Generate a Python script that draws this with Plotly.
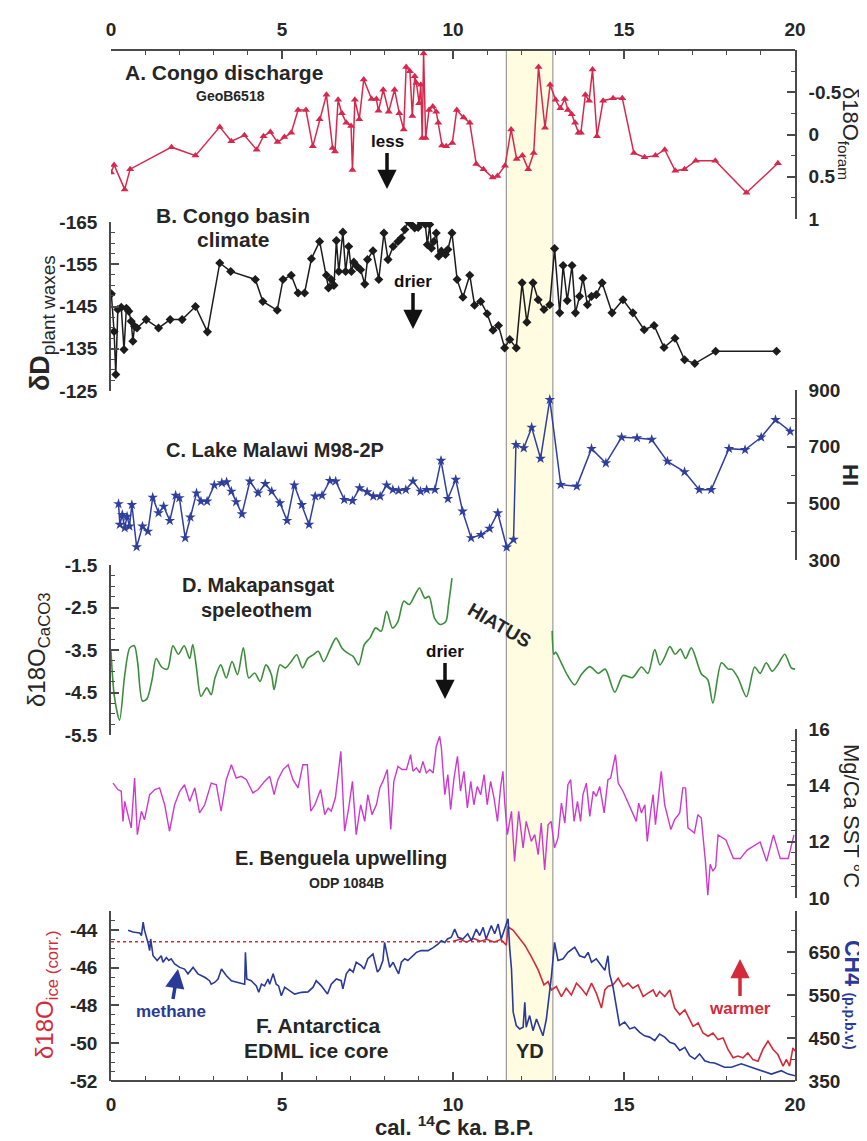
import numpy as np
import plotly.graph_objects as go

# ---------------- data ----------------
# A. Congo discharge, d18O foram (GeoB6518)
A_x = [0.0, 0.09, 0.40, 0.56, 1.77, 2.47, 3.18, 3.52, 3.90, 4.26,
       4.46, 4.66, 4.87, 5.07, 5.27, 5.47, 5.70, 5.90, 6.10, 6.30,
       6.48, 6.55, 6.64, 6.75, 6.88, 7.02, 7.06, 7.13, 7.26, 7.39,
       7.62, 7.76, 7.82, 7.96, 8.12, 8.29, 8.43, 8.56, 8.63, 8.74,
       8.81, 8.88, 8.93, 9.01, 9.06, 9.10, 9.14, 9.20, 9.30, 9.41,
       9.51, 9.57, 9.68, 9.80, 9.98, 10.11, 10.31, 10.49, 10.68, 10.89,
       11.16, 11.30, 11.52, 11.70, 11.86, 12.03, 12.20, 12.36, 12.50, 12.69,
       12.84, 13.00, 13.14, 13.27, 13.36, 13.47, 13.57, 13.67, 13.74, 13.87,
       13.98, 14.08, 14.21, 14.39, 14.68, 14.95, 15.29, 15.60, 15.92, 16.19,
       16.50, 16.77, 17.10, 17.67, 18.58, 19.50]
A_y = [0.45, 0.36, 0.65, 0.41, 0.15, 0.25, -0.09, 0.08, 0.01, 0.18,
       0.02, -0.03, 0.09, 0.03, -0.02, -0.29, -0.29, 0.14, -0.18, -0.47,
       0.16, 0.20, -0.41, -0.25, -0.14, -0.10, 0.42, -0.41, -0.18, -0.65,
       -0.42, -0.42, -0.28, -0.53, -0.27, -0.53, -0.25, -0.06, -0.80, -0.75,
       -0.22, -0.69, -0.61, -0.37, -0.59, 0.04, -0.96, 0.04, -0.29, -0.33,
       -0.27, -0.14, 0.13, 0.14, 0.10, -0.29, -0.20, -0.14, 0.35, 0.41,
       0.51, 0.49, 0.37, -0.06, 0.29, 0.25, 0.41, 0.22, -0.80, -0.08,
       -0.59, -0.41, -0.31, -0.42, -0.29, -0.24, -0.14, -0.02, -0.02, -0.47,
       -0.40, -0.77, 0.02, -0.40, -0.43, -0.43, 0.22, 0.27, 0.25, 0.18,
       0.43, 0.41, 0.31, 0.31, 0.69, 0.34]

# B. Congo basin climate, dD plant waxes
B_x = [0.01, 0.09, 0.14, 0.20, 0.30, 0.38, 0.45, 0.52, 0.59, 0.64,
       0.69, 0.76, 1.03, 1.39, 1.73, 2.08, 2.47, 2.82, 3.18, 3.50,
       4.22, 4.44, 4.86, 5.03, 5.27, 5.47, 5.66, 5.86, 6.10, 6.30,
       6.36, 6.44, 6.52, 6.59, 6.66, 6.78, 6.86, 6.95, 7.03, 7.10,
       7.19, 7.30, 7.42, 7.50, 7.66, 7.83, 7.98, 8.10, 8.25, 8.39,
       8.49, 8.59, 8.68, 8.78, 8.88, 8.98, 9.07, 9.19, 9.25, 9.32,
       9.37, 9.44, 9.51, 9.58, 9.66, 9.78, 9.85, 9.97, 10.12, 10.29,
       10.49, 10.63, 10.81, 11.00, 11.17, 11.33, 11.51, 11.66, 11.85, 12.02,
       12.16, 12.34, 12.49, 12.66, 12.83, 12.97, 13.12, 13.22, 13.34, 13.48,
       13.58, 13.70, 13.80, 13.93, 14.05, 14.19, 14.36, 14.65, 14.97, 15.26,
       15.59, 15.88, 16.17, 16.49, 16.77, 17.07, 17.68, 19.46]
B_y = [-148.0, -139.1, -128.9, -144.3, -144.8, -134.8, -144.6, -143.9, -141.5, -136.8,
       -140.3, -139.9, -141.9, -139.9, -141.9, -141.9, -145.0, -139.0, -155.3, -153.3,
       -151.4, -146.2, -144.1, -151.4, -152.4, -148.2, -148.2, -156.3, -160.4, -152.4,
       -149.4, -151.4, -150.0, -160.6, -153.3, -162.6, -153.3, -159.2, -153.3, -155.5,
       -154.5, -153.7, -150.3, -156.1, -158.2, -151.4, -162.4, -156.1, -159.2, -160.4,
       -161.2, -163.2, -165.2, -164.4, -163.6, -163.7, -164.8, -164.4, -159.6, -164.4,
       -158.8, -160.4, -162.4, -156.9, -158.1, -157.3, -158.5, -162.4, -151.4, -147.2,
       -152.4, -145.3, -146.2, -143.3, -139.4, -140.5, -135.2, -137.2, -135.2, -150.6,
       -141.3, -150.6, -146.6, -144.3, -145.4, -158.7, -143.5, -154.7, -146.4, -154.7,
       -143.5, -147.4, -151.7, -145.4, -147.4, -147.8, -150.6, -143.5, -146.6, -143.5,
       -139.5, -140.5, -135.3, -137.5, -132.4, -131.5, -134.4, -134.4]

# C. Lake Malawi M98-2P, HI
C_x = [0.22, 0.26, 0.33, 0.40, 0.47, 0.54, 0.61, 0.75, 0.92, 1.08,
       1.22, 1.39, 1.54, 1.72, 1.89, 2.00, 2.17, 2.32, 2.50, 2.63,
       2.81, 3.02, 3.24, 3.38, 3.52, 3.66, 3.83, 4.06, 4.30, 4.51,
       4.70, 4.94, 5.15, 5.36, 5.58, 5.79, 5.97, 6.17, 6.40, 6.57,
       6.82, 7.06, 7.27, 7.49, 7.67, 7.87, 8.06, 8.24, 8.41, 8.62,
       8.83, 9.05, 9.23, 9.47, 9.65, 9.85, 10.08, 10.28, 10.53, 10.82,
       11.07, 11.31, 11.57, 11.77, 11.84, 12.07, 12.30, 12.56, 12.83, 13.15,
       13.62, 14.05, 14.47, 14.93, 15.38, 15.81, 16.27, 16.77, 17.20, 17.55,
       18.07, 18.54, 19.01, 19.43, 19.86]
C_y = [498, 425, 460, 413, 454, 419, 495, 346, 419, 401,
       521, 466, 489, 439, 528, 519, 378, 451, 536, 507,
       507, 564, 572, 575, 542, 505, 462, 578, 536, 569,
       542, 501, 439, 564, 495, 425, 525, 528, 580, 578,
       513, 509, 554, 540, 525, 525, 564, 548, 545, 548,
       578, 542, 548, 548, 651, 516, 584, 472, 378, 389,
       411, 466, 345, 372, 707, 695, 768, 658, 866, 566,
       560, 693, 642, 733, 731, 725, 648, 611, 548, 548,
       693, 689, 733, 795, 754]

# D. Makapansgat speleothem, d18O CaCO3 (None marks the hiatus)
D_x = [0.0, 0.1, 0.25, 0.4, 0.55, 0.68, 0.78, 0.92, 1.05, 1.2,
       1.32, 1.48, 1.65, 1.81, 1.97, 2.14, 2.3, 2.39, 2.5, 2.63,
       2.8, 2.93, 3.04, 3.21, 3.37, 3.54, 3.7, 3.87, 4.03, 4.2,
       4.36, 4.53, 4.69, 4.77, 4.94, 5.1, 5.27, 5.43, 5.6, 5.76,
       5.92, 6.06, 6.22, 6.42, 6.58, 6.75, 6.91, 7.08, 7.24, 7.41,
       7.57, 7.74, 7.9, 8.06, 8.23, 8.39, 8.56, 8.72, 8.89, 9.02,
       9.18, 9.3, 9.46, 9.63, 9.79, 9.87, 9.97, None,
       12.9, 12.95, 13.0, 13.17, 13.35, 13.56, 13.75, 14.0, 14.25, 14.45,
       14.73, 14.97, 15.25, 15.51, 15.7, 15.9, 16.05, 16.2, 16.34, 16.5,
       16.65, 16.8, 16.97, 17.26, 17.45, 17.6, 17.85, 18.05, 18.15, 18.33,
       18.58, 18.82, 18.98, 19.16, 19.33, 19.5, 19.7, 19.89, 20.0]
D_y = [-3.53, -4.6, -5.15, -4.1, -3.45, -3.4, -3.8, -4.7, -4.65, -4.2,
       -3.7, -3.9, -3.95, -3.4, -3.6, -3.4, -3.7, -3.37, -3.92, -4.59,
       -4.39, -4.55, -4.16, -3.85, -4.16, -3.77, -4.08, -3.45, -4.16, -4.04,
       -4.24, -3.85, -4.08, -4.43, -3.85, -3.92, -3.77, -3.61, -3.92, -3.69,
       -3.61, -3.53, -3.77, -3.45, -3.22, -3.45, -3.57, -3.65, -3.85, -3.37,
       -3.22, -2.98, -3.06, -2.59, -2.98, -2.83, -2.35, -2.43, -2.2, -2.04,
       -2.28, -2.24, -2.75, -2.9, -2.83, -2.43, -1.81, None,
       -3.05, -3.6, -3.55, -3.81, -4.1, -4.32, -4.08, -3.89, -4.05, -3.95,
       -4.49, -4.1, -4.15, -3.9, -4.05, -3.49, -3.85, -3.65, -3.42, -3.6,
       -3.48, -3.7, -3.45, -4.06, -4.2, -4.75, -3.8, -3.95, -3.95, -4.15,
       -4.6, -3.9, -4.05, -3.8, -4.0, -3.84, -3.6, -3.92, -3.95]

# E. Benguela upwelling, Mg/Ca SST (ODP 1084B)
E_x = [0.06, 0.20, 0.30, 0.35, 0.40, 0.50, 0.59, 0.69, 0.77, 0.89,
       0.98, 1.13, 1.28, 1.42, 1.57, 1.71, 1.86, 2.01, 2.15, 2.30,
       2.45, 2.59, 2.74, 2.93, 3.08, 3.22, 3.37, 3.52, 3.66, 3.81,
       3.96, 4.15, 4.30, 4.49, 4.64, 4.77, 4.88, 5.03, 5.18, 5.32,
       5.47, 5.61, 5.74, 5.84, 5.96, 6.13, 6.25, 6.35, 6.44, 6.56,
       6.72, 6.83, 6.95, 7.06, 7.17, 7.30, 7.42, 7.51, 7.63, 7.76,
       7.86, 7.95, 8.08, 8.18, 8.27, 8.39, 8.51, 8.64, 8.76, 8.83,
       8.93, 9.03, 9.12, 9.22, 9.32, 9.42, 9.51, 9.61, 9.66, 9.76,
       9.85, 9.93, 10.03, 10.13, 10.22, 10.32, 10.42, 10.52, 10.61, 10.71,
       10.81, 10.91, 11.00, 11.10, 11.20, 11.30, 11.39, 11.46, 11.51, 11.59,
       11.71, 11.80, 11.92, 12.05, 12.14, 12.19, 12.29, 12.39, 12.49, 12.58,
       12.68, 12.78, 12.87, 12.97, 13.07, 13.17, 13.27, 13.36, 13.44, 13.54,
       13.64, 13.73, 13.80, 13.90, 14.00, 14.10, 14.19, 14.29, 14.42, 14.53,
       14.61, 14.75, 14.83, 14.97, 15.12, 15.23, 15.36, 15.43, 15.51, 15.61,
       15.68, 15.78, 15.85, 15.92, 16.00, 16.09, 16.19, 16.37, 16.48, 16.63,
       16.72, 16.80, 16.87, 17.06, 17.16, 17.26, 17.38, 17.45, 17.52, 17.60,
       17.68, 17.75, 17.98, 18.20, 18.40, 18.60, 18.98, 19.17, 19.37, 19.57,
       19.80, 19.97]
E_y = [14.08, 13.85, 13.79, 12.72, 13.43, 12.96, 12.49, 14.26, 12.25, 13.08,
       12.78, 13.67, 13.85, 13.91, 13.31, 12.37, 13.31, 13.79, 14.02, 13.43,
       13.91, 13.02, 13.31, 14.08, 14.02, 13.08, 14.20, 14.73, 14.26, 14.32,
       14.20, 13.73, 13.85, 14.14, 14.32, 13.67, 14.20, 14.56, 14.73, 14.20,
       13.91, 14.73, 14.73, 13.08, 13.31, 13.85, 12.96, 13.19, 13.08, 13.55,
       15.21, 12.37, 13.19, 14.14, 12.25, 13.31, 12.72, 13.67, 12.96, 13.31,
       13.91, 14.14, 14.56, 12.43, 14.14, 14.67, 14.56, 14.56, 15.09, 14.50,
       14.62, 14.44, 14.85, 14.44, 14.56, 14.44, 15.38, 15.74, 15.33, 13.67,
       14.38, 13.14, 14.26, 15.03, 13.79, 14.50, 13.20, 14.14, 13.31, 13.96,
       13.67, 14.38, 13.31, 14.14, 13.55, 12.72, 13.91, 14.50, 13.43, 12.25,
       13.08, 11.30, 13.08, 11.78, 12.72, 12.49, 12.01, 12.25, 11.54, 12.66,
       11.00, 12.60, 12.72, 11.78, 12.13, 13.37, 12.66, 14.02, 14.20, 12.72,
       13.43, 12.72, 13.67, 14.08, 12.90, 13.79, 13.61, 13.96, 13.02, 14.20,
       14.26, 15.09, 14.08, 13.79, 13.37, 13.08, 12.72, 13.37, 13.02, 13.31,
       12.01, 13.08, 13.67, 12.60, 13.55, 14.50, 13.31, 12.43, 12.78, 13.02,
       13.91, 13.91, 12.49, 12.31, 12.96, 12.84, 11.30, 10.10, 11.20, 10.95,
       11.10, 12.24, 12.06, 11.40, 11.40, 11.70, 11.99, 11.30, 12.24, 11.40,
       11.40, 12.24]

# F. Antarctica EDML ice core: d18O ice (corr.) and CH4
FI_x = [10.0, 10.2, 10.4, 10.6, 10.8, 11.0, 11.2, 11.4, 11.56, 11.61,
        11.76, 11.90, 12.10, 12.29, 12.49, 12.66, 12.78, 12.88, 13.02, 13.17,
        13.31, 13.46, 13.61, 13.75, 13.90, 14.05, 14.19, 14.34, 14.44, 14.53,
        14.68, 14.83, 14.97, 15.12, 15.26, 15.41, 15.56, 15.70, 15.85, 15.95,
        16.04, 16.19, 16.34, 16.48, 16.63, 16.78, 16.92, 17.02, 17.17, 17.31,
        17.46, 17.60, 17.75, 17.90, 18.04, 18.19, 18.33, 18.48, 18.62, 18.77,
        18.92, 19.06, 19.21, 19.36, 19.50, 19.65, 19.75, 19.84, 19.94, 20.0]
FI_y = [-44.6, -44.5, -44.65, -44.45, -44.6, -44.5, -44.65, -44.5, -44.81, -43.84,
        -44.02, -44.37, -44.81, -45.42, -46.12, -46.91, -46.74, -47.18, -47.00, -47.53,
        -47.09, -47.44, -46.82, -47.09, -47.44, -46.82, -47.35, -48.14, -47.18, -47.00,
        -46.91, -46.56, -47.00, -46.82, -47.09, -46.91, -47.53, -47.35, -47.18, -47.53,
        -47.26, -47.53, -47.18, -48.14, -48.49, -48.23, -48.75, -49.11, -48.93, -49.46,
        -49.63, -49.46, -49.81, -49.72, -50.33, -50.77, -50.68, -50.77, -50.51, -50.86,
        -50.95, -50.33, -49.89, -50.33, -50.60, -51.21, -50.86, -51.21, -50.25, -50.42]
CH4_x = [0.50, 0.64, 0.84, 0.89, 0.94, 0.98, 1.08, 1.13, 1.16, 1.23,
         1.35, 1.47, 1.52, 1.62, 1.69, 1.76, 1.86, 2.01, 2.15, 2.25,
         2.40, 2.54, 2.74, 2.88, 2.93, 3.03, 3.13, 3.23, 3.37, 3.52,
         3.71, 3.91, 3.93, 3.97, 4.10, 4.25, 4.32, 4.40, 4.49, 4.59,
         4.64, 4.74, 4.83, 4.90, 4.98, 5.08, 5.22, 5.37, 5.57, 5.76,
         5.91, 6.00, 6.15, 6.33, 6.44, 6.59, 6.73, 6.78, 6.88, 6.98,
         7.08, 7.17, 7.32, 7.40, 7.51, 7.66, 7.79, 7.86, 7.95, 8.00,
         8.15, 8.25, 8.34, 8.41, 8.49, 8.59, 8.68, 8.78, 8.93, 9.07,
         9.27, 9.42, 9.56, 9.66, 9.76, 9.84, 9.95, 10.05, 10.15, 10.29,
         10.43, 10.54, 10.68, 10.78, 10.88, 10.97, 11.12, 11.22, 11.32, 11.41,
         11.51, 11.61, 11.66, 11.71, 11.76, 11.85, 11.95, 12.05, 12.10, 12.14,
         12.24, 12.34, 12.44, 12.54, 12.63, 12.73, 12.88, 12.97, 13.07, 13.22,
         13.36, 13.56, 13.70, 13.85, 13.95, 14.05, 14.19, 14.34, 14.44, 14.53,
         14.58, 14.68, 14.78, 14.87, 15.02, 15.17, 15.31, 15.46, 15.60, 15.75,
         15.90, 16.04, 16.19, 16.34, 16.48, 16.63, 16.78, 16.92, 17.07, 17.21,
         17.36, 17.51, 17.65, 17.94, 18.14, 18.43, 18.72, 19.02, 19.31, 19.60,
         19.80, 20.0]
CH4_y = [700, 696, 694, 688, 719, 700, 672, 653, 680, 641,
         630, 641, 626, 637, 630, 634, 622, 614, 610, 599,
         614, 599, 591, 583, 575, 579, 587, 610, 595, 583,
         579, 575, 649, 587, 583, 571, 556, 575, 571, 587,
         575, 599, 575, 571, 548, 568, 560, 552, 556, 557,
         568, 583, 571, 552, 575, 587, 583, 564, 599, 610,
         603, 626, 618, 610, 634, 645, 603, 610, 630, 672,
         614, 626, 610, 599, 626, 634, 630, 637, 649, 653,
         653, 660, 668, 676, 672, 680, 684, 703, 684, 680,
         692, 676, 703, 688, 707, 680, 711, 692, 715, 680,
         703, 727, 657, 610, 510, 479, 471, 475, 533, 475,
         502, 467, 494, 471, 455, 494, 595, 672, 630, 634,
         649, 661, 641, 637, 649, 626, 634, 618, 607, 641,
         599, 568, 517, 479, 487, 471, 475, 463, 455, 452,
         444, 459, 452, 440, 436, 421, 428, 409, 401, 413,
         397, 393, 392, 382, 382, 390, 382, 374, 366, 374,
         366, 362]
DOT_X = [0.0, 11.56]
DOT_LEVEL = -44.63

YD_START, YD_END = 11.56, 12.92

X_TICKS = [0, 5, 10, 15, 20]
A_TICKS = [-0.5, 0, 0.5, 1]
B_TICKS = [-165, -155, -145, -135, -125]
C_TICKS = [300, 500, 700, 900]
D_TICKS = [-5.5, -4.5, -3.5, -2.5, -1.5]
E_TICKS = [10, 12, 14, 16]
F_TICKS = [-52, -50, -48, -46, -44]
CH4_TICKS = [350, 450, 550, 650]

# ---------------- layout geometry ----------------
W, H = 867, 1141
ML, MR, MT, MB = 103, 80, 42, 68
PW = W - ML - MR
PH = H - MT - MB


def fx(px):
    return (px - ML) / PW


def fy(py):
    return (H - MB - py) / PH


FONT = 'Liberation Sans, Arial, sans-serif'
AX = '#4a4a4a'
TXT = '#262626'
RED_A = '#D6284E'
BLACK = '#1c1c1c'
BLUE_C = '#2F3F9E'
GREEN = '#3B8E3B'
MAGENTA = '#CC3ACC'
RED_F = '#D22C3A'
BLUE_F = '#2A3A98'


def yaxis(top_px, bot_px, rng, side, ticks, minor_vals):
    return dict(domain=[fy(bot_px), fy(top_px)], range=rng, side=side, anchor='x',
                showline=True, linecolor=AX, linewidth=1.6,
                ticks='inside', ticklen=8, tickwidth=1.5, tickcolor=AX,
                tickmode='array', tickvals=ticks, ticktext=['%g' % v for v in ticks],
                tickfont=dict(family=FONT, size=19, color=TXT, weight='bold'),
                ticklabelstandoff=8,
                minor=dict(ticks='inside', ticklen=4, tickwidth=1, tickcolor=AX,
                           tickmode='array', tickvals=list(minor_vals), showgrid=False),
                showgrid=False, zeroline=False, fixedrange=True)


def xaxis(extra):
    d = dict(domain=[0, 1], range=[0, 20], showline=True, linecolor=AX, linewidth=1.6,
             ticks='inside', ticklen=8, tickwidth=1.5, tickcolor=AX,
             tickmode='array', tickvals=X_TICKS, ticktext=[str(v) for v in X_TICKS],
             tickfont=dict(family=FONT, size=19, color=TXT, weight='bold'),
             ticklabelstandoff=6,
             minor=dict(ticks='inside', ticklen=4, tickwidth=1, tickcolor=AX,
                        tickmode='array', tickvals=list(range(0, 21)), showgrid=False),
             showgrid=False, zeroline=False, fixedrange=True)
    d.update(extra)
    return d


fig = go.Figure()

fig.add_trace(go.Scatter(x=A_x, y=A_y, xaxis='x', yaxis='y', mode='lines+markers',
                         line=dict(color=RED_A, width=1.5),
                         marker=dict(symbol='triangle-up', size=7, color=RED_A)))
fig.add_trace(go.Scatter(x=B_x, y=B_y, xaxis='x', yaxis='y2', mode='lines+markers',
                         line=dict(color=BLACK, width=1.5),
                         marker=dict(symbol='diamond', size=7, color=BLACK)))
fig.add_trace(go.Scatter(x=C_x, y=C_y, xaxis='x', yaxis='y3', mode='lines+markers',
                         line=dict(color=BLUE_C, width=1.5),
                         marker=dict(symbol='star', size=8, color=BLUE_C)))
fig.add_trace(go.Scatter(x=D_x, y=D_y, xaxis='x', yaxis='y4', mode='lines',
                         line=dict(color=GREEN, width=1.6, shape='spline', smoothing=0.8),
                         connectgaps=False))
fig.add_trace(go.Scatter(x=E_x, y=E_y, xaxis='x', yaxis='y5', mode='lines',
                         line=dict(color=MAGENTA, width=1.4)))
fig.add_trace(go.Scatter(x=DOT_X, y=[DOT_LEVEL, DOT_LEVEL], xaxis='x', yaxis='y6', mode='lines',
                         line=dict(color=RED_F, width=1.5, dash='dot')))
fig.add_trace(go.Scatter(x=FI_x, y=FI_y, xaxis='x', yaxis='y6', mode='lines',
                         line=dict(color=RED_F, width=1.6)))
fig.add_trace(go.Scatter(x=CH4_x, y=CH4_y, xaxis='x', yaxis='y7', mode='lines',
                         line=dict(color=BLUE_F, width=1.6)))
# dummy trace so that the top axis is drawn
fig.add_trace(go.Scatter(x=[0, 20], y=[None, None], xaxis='x2', yaxis='y', mode='lines',
                         hoverinfo='skip'))

shapes = [
    dict(type='rect', xref='x', yref='paper', x0=YD_START, x1=YD_END, y0=0, y1=1,
         fillcolor='#FFFCE2', line=dict(width=0), layer='below'),
    dict(type='line', xref='x', yref='paper', x0=YD_START, x1=YD_START, y0=0, y1=1,
         line=dict(color='#9a9a9a', width=1.2), layer='below'),
    dict(type='line', xref='x', yref='paper', x0=YD_END, x1=YD_END, y0=0, y1=1,
         line=dict(color='#9a9a9a', width=1.2), layer='below'),
]


def txt(px, py, text, size, color=TXT, bold=True, angle=0):
    return dict(x=fx(px), y=fy(py), xref='paper', yref='paper', text=text, showarrow=False,
                font=dict(family=FONT, size=size, color=color, weight='bold' if bold else 'normal'),
                textangle=angle, xanchor='center', yanchor='middle')


def label_arrow(lx, ly, tipx, tipy, text, size, color):
    # label text sits at (lx, ly); its arrow points to (tipx, tipy)
    return dict(x=fx(tipx), y=fy(tipy), xref='paper', yref='paper',
                ax=lx - tipx, ay=ly - tipy, text=text, showarrow=True,
                font=dict(family=FONT, size=size, color=color, weight='bold'),
                arrowhead=2, arrowsize=1.1, arrowwidth=3.5, arrowcolor=color,
                standoff=0, startstandoff=2, borderpad=0)


annotations = [
    txt(216, 65, 'A. Congo discharge', 21),
    txt(222, 88, 'GeoB6518', 14),
    label_arrow(379, 133, 379, 181, 'less', 17, '#111111'),
    txt(225, 207, 'B. Congo basin', 21),
    txt(225, 232, 'climate', 21),
    label_arrow(405, 273, 405, 321, 'drier', 17, '#111111'),
    txt(267, 442, 'C. Lake Malawi M98-2P', 20),
    txt(250, 577, 'D. Makapansgat', 20),
    txt(248, 602, 'speleothem', 20),
    txt(492, 617, 'HIATUS', 19, angle=30),
    label_arrow(437, 643, 437, 691, 'drier', 17, '#111111'),
    txt(333, 850, 'E. Benguela upwelling', 20),
    txt(338, 875, 'ODP 1084B', 14),
    txt(310, 1017, 'F. Antarctica', 21),
    txt(308, 1042, 'EDML ice core', 21),
    label_arrow(163, 1003, 170, 961, 'methane', 17, BLUE_F),
    label_arrow(732, 1000, 732, 951, 'warmer', 17, RED_F),
    txt(522, 1043, 'YD', 20),
    # axis titles
    txt(841, 125, 'δ18O<sub>foram</sub>', 22, bold=False, angle=90),
    txt(34, 315, '<b>δD</b><sub>plant waxes</sub>', 27, bold=False, angle=-90),
    txt(842, 467, 'HI', 22, angle=90),
    txt(30, 642, 'δ18O<sub>CaCO3</sub>', 24, bold=False, angle=-90),
    txt(844, 808, 'Mg/Ca SST °C', 22, bold=False, angle=90),
    txt(38, 987, 'δ18O<sub>ice (corr.)</sub>', 24, color=RED_F, bold=False, angle=-90),
    txt(845, 987, "CH4 <span style='font-size:14px'>(p.p.b.v.)</span>", 23, color=BLUE_F, angle=90),
    txt(446, 1118, 'cal. <sup>14</sup>C ka. B.P.', 22),
]

fig.update_layout(
    width=W, height=H,
    margin=dict(l=ML, r=MR, t=MT, b=MB, pad=0),
    paper_bgcolor='white', plot_bgcolor='rgba(0,0,0,0)',
    showlegend=False,
    font=dict(family=FONT, color=TXT),
    xaxis=xaxis(dict(anchor='free', position=0, side='bottom')),
    xaxis2=xaxis(dict(anchor='free', position=1, side='top', overlaying='x')),
    yaxis=yaxis(42, 211, [1, -1], 'right', A_TICKS, np.arange(-1, 1.001, 0.25)),
    yaxis2=yaxis(214, 383, [-125, -165], 'left', B_TICKS, np.arange(-165, -124.9, 2.5)),
    yaxis3=yaxis(382, 552, [300, 900], 'right', C_TICKS, np.arange(300, 901, 100)),
    yaxis4=yaxis(557, 727, [-5.5, -1.5], 'left', D_TICKS, np.arange(-5.5, -1.49, 0.25)),
    yaxis5=yaxis(721, 890, [10, 16], 'right', E_TICKS, np.arange(10, 16.01, 0.4)),
    yaxis6=yaxis(903, 1073, [-52, -43], 'left', F_TICKS, np.arange(-52, -42.99, 0.5)),
    yaxis7=yaxis(903, 1073, [350, 745], 'right', CH4_TICKS, np.arange(350, 746, 50)),
    shapes=shapes,
    annotations=annotations,
)

fig.write_html('out.html')
